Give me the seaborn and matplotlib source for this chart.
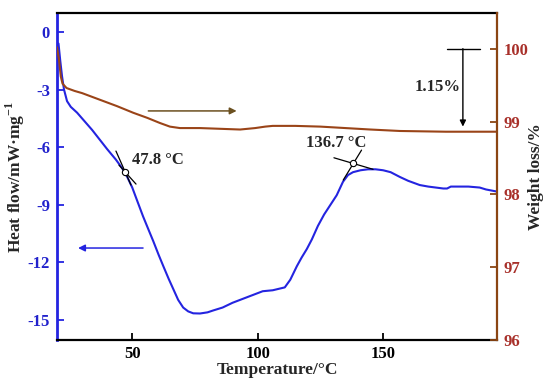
import numpy as np
import pandas as pd
import matplotlib
matplotlib.use("Agg")
import matplotlib.pyplot as plt
import seaborn as sns

# ---- data ----
dsc_temp = [20.6, 21.3, 22.0, 22.8, 24.0, 25.5, 28, 31, 34, 37, 40, 43.5, 46, 48, 50, 52,
            54.3, 56.5, 58.4, 60.5, 62.4, 64.5, 66.4, 68.3, 70.3, 72.3, 74.3, 77, 80, 82.3,
            86, 90, 93, 97, 100, 102, 106, 110.8, 113, 115.6, 117.5, 119.6, 121.6, 124,
            126.5, 129, 131.5, 134, 136, 138, 141, 144, 147, 150, 153, 156.7, 160, 164.6,
            168, 171, 174, 175.5, 177, 180, 184, 188.5, 191, 195]
heat_flow = [-0.6, -1.5, -2.3, -3.0, -3.6, -3.9, -4.2, -4.65, -5.1, -5.6, -6.1, -6.65, -7.1,
             -7.55, -8.1, -8.8, -9.6, -10.3, -10.9, -11.6, -12.2, -12.85, -13.4, -13.95,
             -14.35, -14.55, -14.65, -14.66, -14.6, -14.5, -14.35, -14.1, -13.95, -13.75,
             -13.6, -13.5, -13.45, -13.3, -12.9, -12.2, -11.75, -11.3, -10.8, -10.1, -9.5,
             -9.0, -8.5, -7.8, -7.45, -7.3, -7.2, -7.15, -7.15, -7.2, -7.3, -7.55, -7.75,
             -7.97, -8.05, -8.1, -8.15, -8.15, -8.05, -8.05, -8.05, -8.1, -8.2, -8.3]

tg_temp = [20, 20.8, 21.5, 22.2, 23.8, 27, 30, 37, 44, 50.4, 56, 61, 65, 69, 77, 85, 93, 99,
           103, 106, 115, 125, 135, 145, 156.7, 175, 195]
weight = [100.02, 99.85, 99.62, 99.52, 99.46, 99.42, 99.39, 99.3, 99.21, 99.12, 99.05, 98.98,
          98.93, 98.91, 98.91, 98.90, 98.89, 98.91, 98.93, 98.94, 98.94, 98.93, 98.91,
          98.89, 98.87, 98.86, 98.86]

# onset tangent constructions (temperature, heat flow)
tan1a_t, tan1a_h = [43.5, 49.5], [-6.2, -7.97]
tan1b_t, tan1b_h = [44.7, 51.5], [-6.93, -7.92]
onset1 = (47.2, -7.28)
tan2a_t, tan2a_h = [130.4, 146.0], [-6.55, -7.15]
tan2b_t, tan2b_h = [141.4, 134.1], [-6.15, -7.71]
onset2 = (137.8, -6.8)

x_ticks = [50, 100, 150]
hf_ticks = [0, -3, -6, -9, -12, -15]
w_ticks = [96, 97, 98, 99, 100]

dsc_df = pd.DataFrame({"T": dsc_temp, "H": heat_flow})
tg_df = pd.DataFrame({"T": tg_temp, "W": weight})

# ---- style ----
sns.set_theme(style="ticks")
plt.rcParams["font.family"] = ["Liberation Serif", "DejaVu Serif"]
plt.rcParams["font.weight"] = "bold"
plt.rcParams["mathtext.fontset"] = "custom"
plt.rcParams["mathtext.rm"] = "Liberation Serif:bold"

BLUE = "#2424e0"
BLUE_TXT = "#2222cc"
BROWN = "#9a4418"
BROWN_SP = "#8b4513"
RED_TXT = "#a8302a"
FS = 12
LFS = 12.5

fig = plt.figure(figsize=(5.5, 3.85), dpi=100)
ax = fig.add_axes([57/550, 1-340/385, 440/550, 327/385])
ax2 = ax.twinx()

sns.lineplot(data=dsc_df, x="T", y="H", ax=ax, color=BLUE, lw=1.5, sort=False, estimator=None)
sns.lineplot(data=tg_df, x="T", y="W", ax=ax2, color=BROWN, lw=1.5, sort=False, estimator=None)

ax.set_xlim(20, 195.4)
ax.set_ylim(-16.04, 0.99)
ax2.set_ylim(96, 100.49)

ax.set_xticks(x_ticks)
ax.set_yticks(hf_ticks)
ax2.set_yticks(w_ticks)
ax.set_xticklabels([str(t) for t in x_ticks], fontsize=FS, fontweight="bold")
ax.set_yticklabels([str(t) for t in hf_ticks], fontsize=FS, fontweight="bold", color=BLUE_TXT)
ax2.set_yticklabels([str(t) for t in w_ticks], fontsize=FS, fontweight="bold", color=RED_TXT)

ax.tick_params(axis="x", direction="in", length=5, width=1.3, colors="black", pad=4)
ax.tick_params(axis="y", direction="in", length=5, width=1.3, colors=BLUE, pad=5)
ax2.tick_params(axis="y", direction="in", length=5, width=1.3, colors=BROWN_SP, pad=5)
for lab in ax.get_yticklabels():
    lab.set_color(BLUE_TXT)
for lab in ax2.get_yticklabels():
    lab.set_color(RED_TXT)

for sp in ["top", "bottom"]:
    ax.spines[sp].set_color("black")
    ax.spines[sp].set_linewidth(1.6)
ax.spines["left"].set_color(BLUE)
ax.spines["left"].set_linewidth(2.0)
ax2.spines["right"].set_color(BROWN_SP)
ax2.spines["right"].set_linewidth(1.6)
ax2.spines["left"].set_visible(False)
ax2.spines["top"].set_visible(False)
ax2.spines["bottom"].set_visible(False)
ax.spines["right"].set_visible(False)

ax.set_xlabel("Temperature/°C", fontsize=LFS, fontweight="bold", labelpad=0)
ax.set_ylabel("Heat flow/mW·mg$^{-1}$", fontsize=LFS, fontweight="bold")
ax2.set_ylabel("Weight loss/%", fontsize=LFS, fontweight="bold")
ax.yaxis.set_label_coords(-0.068, 0.5)
ax2.yaxis.set_label_coords(1.071, 0.5)

# tangent constructions
for tt, hh in [(tan1a_t, tan1a_h), (tan1b_t, tan1b_h), (tan2a_t, tan2a_h), (tan2b_t, tan2b_h)]:
    ax.plot(tt, hh, color="black", lw=0.9, zorder=4)
ax.plot(*onset1, marker="o", ms=4.5, mfc="white", mec="black", mew=0.8, zorder=5)
ax.plot(*onset2, marker="o", ms=4.5, mfc="white", mec="black", mew=0.8, zorder=5)
ax.text(60.2, -6.67, "47.8 °C", fontsize=FS, fontweight="bold", ha="center", va="center")
ax.text(131.2, -5.8, "136.7 °C", fontsize=FS, fontweight="bold", ha="center", va="center")

# direction arrows
ax.annotate("", xy=(91.6, -4.11), xytext=(56.4, -4.11),
            arrowprops=dict(arrowstyle="-|>", color="#6b5020", lw=1.1, mutation_scale=10,
                            shrinkA=0, shrinkB=0))
ax.annotate("", xy=(28.4, -11.25), xytext=(54.3, -11.25),
            arrowprops=dict(arrowstyle="-|>", color=BLUE, lw=1.1, mutation_scale=10,
                            shrinkA=0, shrinkB=0))

# 1.15% mass loss marker
ax2.plot([175.4, 188.5], [100, 100], color="black", lw=1.0)
ax2.annotate("", xy=(181.8, 98.93), xytext=(181.8, 100),
             arrowprops=dict(arrowstyle="-|>", color="black", lw=1.0, mutation_scale=9,
                             shrinkA=0, shrinkB=0))
ax2.text(171.6, 99.48, "1.15%", fontsize=FS, fontweight="bold", ha="center", va="center")

fig.savefig("out.png", dpi=100)
